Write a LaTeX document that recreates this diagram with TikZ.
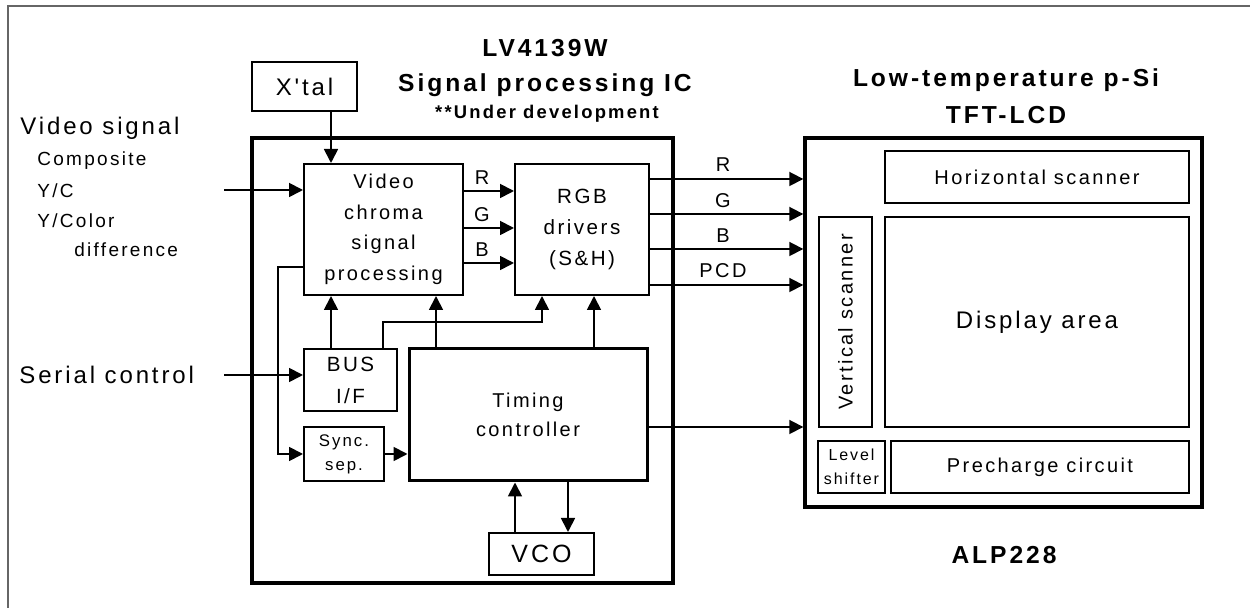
\documentclass[tikz,border=0pt]{standalone}
\usepackage{fontspec}
\setmainfont{Liberation Sans}[LetterSpace=12]
\newfontfamily\plainq{Liberation Sans}[LetterSpace=12,Ligatures=TeXOff]
\usetikzlibrary{arrows.meta,calc}
\newcommand\fsz[2]{\fontsize{#1pt}{#2pt}\selectfont}
\begin{document}
\begin{tikzpicture}[x=0.5pt,y=-0.5pt,
  box/.style={draw,line width=1pt,inner sep=0pt,align=center,font=\fsz{10}{15}},
  heavybox/.style={box,line width=1.7pt},
  arr/.style={line width=0.9pt,-{Triangle[length=7pt,width=7pt]}},
  lbl/.style={inner sep=0pt,font=\fsz{10}{12}},
  ttl/.style={inner sep=0pt,font=\bfseries\fsz{12.3}{14}},
  txt/.style={inner sep=0pt,anchor=west,font=\fsz{12}{14}}]
\useasboundingbox (0,0) rectangle (1250,608);
\fill[white] (0,0) rectangle (1250,608);
\draw[black!60,line width=0.8pt] (8,620) -- (8,6) -- (1260,6);

% titles
\node[ttl] (t1) at (545,48) {LV4139W};
\node[ttl] (t2) at (545,85) {Signal processing IC};
\node[ttl,font=\bfseries\fsz{9.2}{12}] (t3) at (547,114) {**Under development};
\node[ttl] (t4) at (1006,80) {Low-temperature p-Si};
\node[ttl] (t5) at (1006,115) {TFT-LCD};
\node[ttl] (t6) at (1004,555) {ALP228};

% left texts
\node[txt] (vs1) at (20,128) {Video signal};
\node[txt,font=\fsz{9.5}{12}] (vs2) at (37,161) {Composite};
\node[txt,font=\fsz{9.5}{12}] (vs3) at (37,191) {Y/C};
\node[txt,font=\fsz{9.5}{12}] (vs4) at (37,221) {Y/Color};
\node[txt,font=\fsz{9.5}{12}] (vs5) at (74,250) {difference};
\node[txt] (sc) at (19,375) {Serial control};

% IC blocks
\node[box,minimum width=52.5pt,minimum height=24.5pt,font=\plainq\fsz{12}{14}] (xtal) at (304.5,86.5) {X'tal};
\node[heavybox,minimum width=210.5pt,minimum height=222.5pt] (ic) at (462.5,360.5) {};
\node[box,minimum width=79.5pt,minimum height=65.5pt,font=\fsz{10}{15.3}] (chroma) at (383.5,229.5) {Video\\chroma\\signal\\processing};
\node[box,minimum width=67pt,minimum height=65.5pt,font=\fsz{10.3}{15.5}] (rgb) at (582,229.5) {RGB\\drivers\\(S\&H)};
\node[box,minimum width=46.5pt,minimum height=31pt,font=\fsz{10.3}{16}] (bus) at (350.5,380) {BUS\\I/F};
\node[box,minimum width=40pt,minimum height=27pt,font=\fsz{8.4}{12}] (sync) at (344,454) {Sync.\\sep.};
\node[box,line width=1.5pt,minimum width=119pt,minimum height=66pt,font=\fsz{10}{14.5}] (timing) at (528,415) {Timing\\controller};
\node[box,minimum width=52.5pt,minimum height=21pt,font=\fsz{12.5}{14}] (vco) at (541.5,554) {VCO};

% LCD blocks
\node[heavybox,minimum width=198.5pt,minimum height=184.5pt] (lcd) at (1003.5,322.5) {};
\node[box,minimum width=152pt,minimum height=26pt] (hs) at (1037,177) {Horizontal scanner};
\node[box,minimum width=26.5pt,minimum height=105pt] (vsc) at (845.5,322) {};
\node[inner sep=0pt,rotate=90,font=\fsz{10}{12}] (vsct) at (vsc.center) {Vertical scanner};
\node[box,minimum width=152pt,minimum height=105pt,font=\fsz{12}{14}] (disp) at (1037,322) {Display area};
\node[box,minimum width=33.5pt,minimum height=26pt,font=\fsz{8}{12}] (ls) at (851.5,467) {Level\\shifter};
\node[box,minimum width=149pt,minimum height=26pt] (pc) at (1040,467) {Precharge circuit};

% helper coordinates
\coordinate (vx) at (331,0);
\coordinate (vin) at (224,190);
\coordinate (sin) at (224,375);
\coordinate (lp) at (278,267);
\coordinate (b1) at (383,322);
\coordinate (b2) at (542,322);
\coordinate (tA) at (436,0);
\coordinate (tB) at (594,0);
\coordinate (vA) at (515,0);
\coordinate (vB) at (568,0);
\coordinate (cR) at (0,191);
\coordinate (cG) at (0,228);
\coordinate (cB) at (0,263);
\coordinate (oR) at (0,179);
\coordinate (oG) at (0,214);
\coordinate (oB) at (0,249);
\coordinate (oP) at (0,285);
\coordinate (oT) at (0,427);

% connectors
\draw[arr] (xtal.south -| vx) -- (chroma.north -| vx);
\draw[arr] (vin) -- (chroma.west |- vin);
\draw[arr] (sin) -- (bus.west |- sin);
\draw[arr] (chroma.east |- cR) -- (rgb.west |- cR);
\draw[arr] (chroma.east |- cG) -- (rgb.west |- cG);
\draw[arr] (chroma.east |- cB) -- (rgb.west |- cB);
\draw[arr] (chroma.west |- lp) -- (lp) |- (sync.west);
\draw[arr] (sync.east) -- (timing.west |- sync.east);
\draw[arr] (bus.north -| vx) -- (chroma.south -| vx);
\draw[arr] (bus.north -| b1) -- (b1) -- (b2) -- (rgb.south -| b2);
\draw[arr] (timing.north -| tA) -- (chroma.south -| tA);
\draw[arr] (timing.north -| tB) -- (rgb.south -| tB);
\draw[arr] (vco.north -| vA) -- (timing.south -| vA);
\draw[arr] (timing.south -| vB) -- (vco.north -| vB);
\draw[arr] (rgb.east |- oR) -- (lcd.west |- oR);
\draw[arr] (rgb.east |- oG) -- (lcd.west |- oG);
\draw[arr] (rgb.east |- oB) -- (lcd.west |- oB);
\draw[arr] (rgb.east |- oP) -- (lcd.west |- oP);
\draw[arr] (timing.east |- oT) -- (lcd.west |- oT);

% signal labels
\node[lbl] (lR) at (482,178) {R};
\node[lbl] (lG) at (482,215) {G};
\node[lbl] (lB) at (482,250) {B};
\node[lbl] (mR) at (723,165) {R};
\node[lbl] (mG) at (723,201) {G};
\node[lbl] (mB) at (723,236) {B};
\node[lbl] (mP) at (723,271) {PCD};
\end{tikzpicture}
\end{document}
